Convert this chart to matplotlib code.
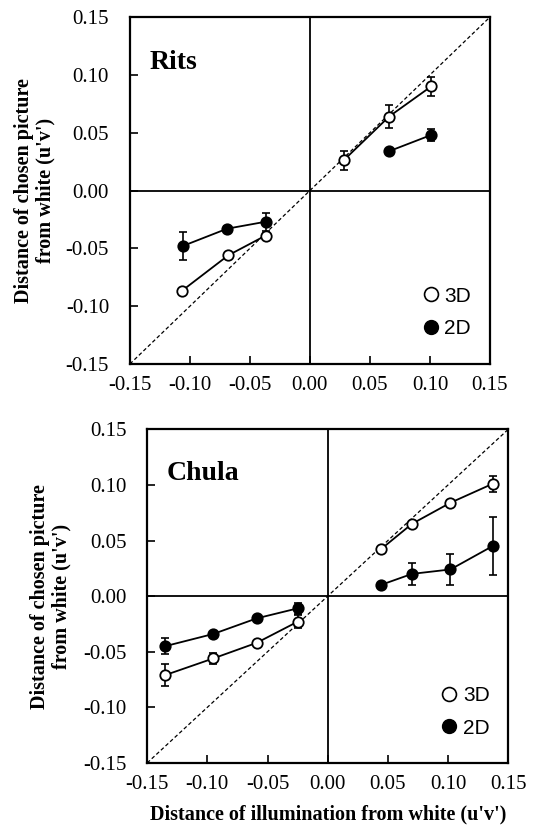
import matplotlib
matplotlib.use("Agg")
import matplotlib.pyplot as plt
from matplotlib.lines import Line2D

# Rits panel
rits_3d_x = [-0.107, -0.068, -0.037, 0.028, 0.066, 0.101]
rits_3d_y = [-0.087, -0.056, -0.039, 0.026, 0.064, 0.090]
rits_3d_err = [0.002, 0.002, 0.002, 0.008, 0.010, 0.008]
rits_2d_x = [-0.106, -0.069, -0.037, 0.066, 0.101]
rits_2d_y = [-0.048, -0.033, -0.027, 0.034, 0.048]
rits_2d_err = [0.012, 0.002, 0.008, 0.002, 0.005]

# Chula panel
chula_x = [-0.135, -0.095, -0.059, -0.025, 0.044, 0.070, 0.102, 0.137]
chula_3d_y = [-0.071, -0.056, -0.042, -0.023, 0.042, 0.065, 0.084, 0.101]
chula_3d_err = [0.010, 0.005, 0.002, 0.006, 0.002, 0.002, 0.002, 0.007]
chula_2d_y = [-0.045, -0.034, -0.020, -0.011, 0.010, 0.020, 0.024, 0.045]
chula_2d_err = [0.007, 0.002, 0.002, 0.005, 0.002, 0.010, 0.014, 0.026]

ticks = [-0.15, -0.10, -0.05, 0.00, 0.05, 0.10, 0.15]
tick_labels = ["-0.15", "-0.10", "-0.05", "0.00", "0.05", "0.10", "0.15"]
ylabel = "Distance of chosen picture\nfrom white (u'v')"
xlabel = "Distance of illumination from white (u'v')"

plt.rcParams['font.family'] = ['Liberation Serif', 'DejaVu Serif']


def draw_series(ax, xs, ys, errs, face):
    ax.errorbar(xs, ys, yerr=errs, color='black', elinewidth=1.2,
                capsize=3, capthick=1.2, zorder=3, fmt='none')
    # lines only join points within the same quadrant
    for side in (-1, 1):
        idx = [i for i, x in enumerate(xs) if x * side > 0]
        ax.plot([xs[i] for i in idx], [ys[i] for i in idx], color='black',
                lw=1.3, marker='o', markersize=7.5, markerfacecolor=face,
                markeredgecolor='black', markeredgewidth=1.3, zorder=4)


def setup(ax, name, ypad):
    ax.set_xlim(-0.15, 0.15)
    ax.set_ylim(-0.15, 0.15)
    ax.axhline(0, color='black', lw=1.3, zorder=1)
    ax.axvline(0, color='black', lw=1.3, zorder=1)
    ax.plot([-0.15, 0.15], [-0.15, 0.15], color='black', lw=0.9,
            linestyle=(0, (3, 2)), zorder=2)
    ax.set_xticks(ticks)
    ax.set_xticklabels(tick_labels)
    ax.set_yticks(ticks)
    ax.set_yticklabels(tick_labels)
    ax.tick_params(direction='in', length=6, width=1.2, labelsize=15)
    ax.tick_params(axis='x', pad=9)
    ax.tick_params(axis='y', pad=15)
    for s in ax.spines.values():
        s.set_linewidth(1.6)
    ax.set_ylabel(ylabel, fontsize=14.5, fontweight='bold', labelpad=ypad,
                  linespacing=1.15)
    ax.text(0.055, 0.905, name, transform=ax.transAxes, fontsize=20,
            fontweight='bold', va='top')
    handles = [
        Line2D([], [], linestyle='none', marker='o', markersize=10,
               markerfacecolor='white', markeredgecolor='black', markeredgewidth=1.2),
        Line2D([], [], linestyle='none', marker='o', markersize=10,
               markerfacecolor='black', markeredgecolor='black'),
    ]
    ax.legend(handles, ['3D', '2D'], loc='lower right', bbox_to_anchor=(1.0, 0.02),
              frameon=False, handlelength=0.6, handletextpad=0.35,
              labelspacing=0.65, prop={'family': 'Liberation Sans', 'size': 15})


fig = plt.figure(figsize=(5.39, 8.32), dpi=100)
ax_top = fig.add_axes([0.241, 0.5625, 0.668, 0.417])
ax_bot = fig.add_axes([0.273, 0.083, 0.670, 0.401])

setup(ax_top, "Rits", 7)
draw_series(ax_top, rits_3d_x, rits_3d_y, rits_3d_err, 'white')
draw_series(ax_top, rits_2d_x, rits_2d_y, rits_2d_err, 'black')

setup(ax_bot, "Chula", 8)
draw_series(ax_bot, chula_x, chula_3d_y, chula_3d_err, 'white')
draw_series(ax_bot, chula_x, chula_2d_y, chula_2d_err, 'black')
ax_bot.set_xlabel(xlabel, fontsize=14.5, fontweight='bold', labelpad=7)

fig.savefig("out.png", dpi=100)
